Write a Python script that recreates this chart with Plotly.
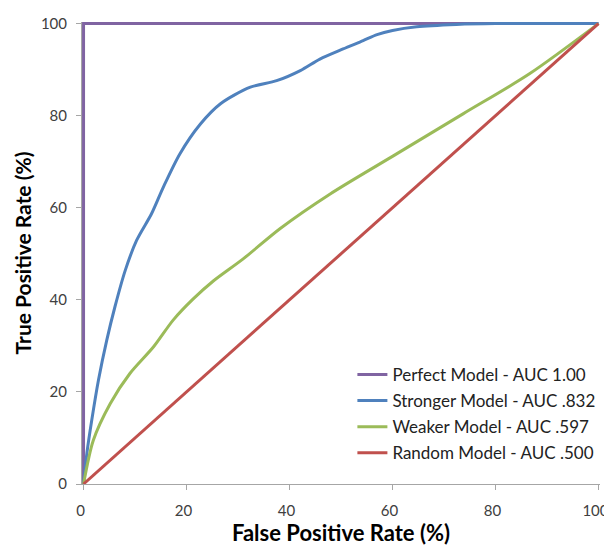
import plotly.graph_objects as go

# Data (percent)
perfect_x = [0, 0, 100]
perfect_y = [0, 100, 100]

strong_x = [0, 0.65, 1.6, 2.9, 4.5, 6.1, 8.1, 10.3, 13.2, 15.5, 18.7, 22.7, 26.6, 32.4, 37.5, 42.1, 45.9, 50.4, 54.3, 57, 60, 64.7, 72.4, 80, 100]
strong_y = [0, 6.7, 13.9, 22.6, 31.2, 38.5, 46.4, 52.9, 58.7, 64.5, 71.7, 78.2, 82.6, 86.2, 87.6, 89.8, 92.3, 94.5, 96.3, 97.6, 98.5, 99.3, 99.8, 100, 100]

weak_x = [0, 1.9, 5.2, 9, 13.6, 17.4, 21.3, 25.2, 31, 38.2, 47.9, 60.8, 73.7, 86.6, 100]
weak_y = [0, 9.5, 17.5, 24, 29.8, 35.6, 40.2, 44.1, 48.9, 55.5, 63, 71.7, 80.4, 89.1, 100]

random_x = [0, 100]
random_y = [0, 100]

names = ["Perfect Model - AUC 1.00", "Stronger Model - AUC .832",
         "Weaker Model - AUC .597", "Random Model - AUC .500"]
colors = ["#8064A2", "#4F81BD", "#9BBB59", "#C0504D"]
shapes = ["linear", "spline", "spline", "linear"]

series = [(perfect_x, perfect_y), (strong_x, strong_y), (weak_x, weak_y), (random_x, random_y)]

fig = go.Figure()
for (xs, ys), n, c, s in zip(series, names, colors, shapes):
    line = dict(color=c, width=3, shape=s)
    if s == "spline":
        line["smoothing"] = 0.8
    fig.add_trace(go.Scatter(x=xs, y=ys, mode="lines", name=n, line=line,
                             legendgroup=n))

font_family = "Lato, 'Open Sans', sans-serif"
axis_common = dict(tickvals=[0, 20, 40, 60, 80, 100], automargin=False,
                   showgrid=False, zeroline=False, showline=True,
                   linecolor="#A6A6A6", linewidth=1, ticks="outside",
                   ticklen=5, tickcolor="#A6A6A6", ticklabeloverflow="allow",
                   tickfont=dict(family=font_family, size=15, color="#404040"))

# page body has an 8px default margin, so the figure is drawn 8px in
fig.update_layout(
    width=604, height=538,
    margin=dict(l=73.5, r=11.5, t=13.5, b=62, autoexpand=False),
    paper_bgcolor="white", plot_bgcolor="white",
    font=dict(family=font_family, color="#000000"),
    xaxis=dict(**axis_common, range=[-0.3, 100.3], ticklabelstandoff=8,
               ticklabelshift=-3,
               title=dict(text="<b>False Positive Rate (%)</b>",
                          font=dict(family=font_family, size=22, color="#000"), standoff=4)),
    yaxis=dict(**axis_common, range=[0, 100.35], ticklabelstandoff=6,
               title=dict(text="<b>True Positive Rate (%)</b>",
                          font=dict(family=font_family, size=21, color="#000"), standoff=3)),
    legend=dict(x=0.522, y=0.275, xanchor="left", yanchor="top",
                bgcolor="rgba(0,0,0,0)", tracegroupgap=1,
                font=dict(family=font_family, size=17, color="#222")),
    showlegend=True,
)

fig.write_html("out.html")
